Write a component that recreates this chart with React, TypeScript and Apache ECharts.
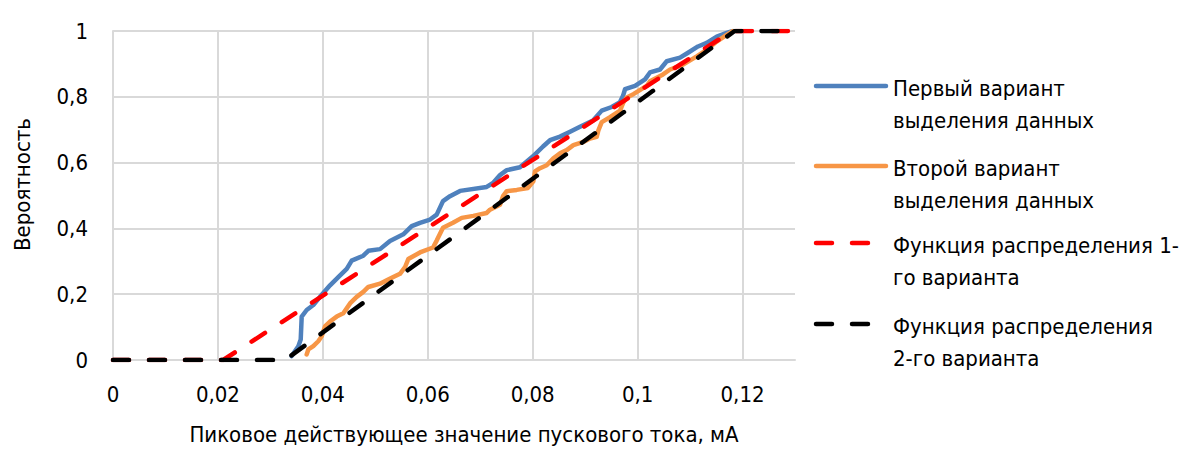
import React, { useEffect, useRef } from "react";
import * as echarts from "echarts";

const FONT = '"Liberation Sans Narrow", "DejaVu Sans Condensed", "Roboto Condensed", sans-serif';

const xTicks = [0, 0.02, 0.04, 0.06, 0.08, 0.1, 0.12];
const yTicks = [0, 0.2, 0.4, 0.6, 0.8, 1];

const seriesNames = [
  "Первый вариант\nвыделения данных",
  "Второй вариант\nвыделения данных",
  "Функция распределения 1-\nго варианта",
  "Функция распределения\n2-го варианта",
];

const firstVariant: [number, number][] = [
  [0.03406, 0.012], [0.03533, 0.042], [0.03578, 0.062], [0.03597, 0.132], [0.03692, 0.152],
  [0.03818, 0.167], [0.03946, 0.192], [0.04137, 0.227], [0.04295, 0.252], [0.04455, 0.277],
  [0.0455, 0.302], [0.04771, 0.317], [0.04867, 0.332], [0.0509, 0.337], [0.0528, 0.362],
  [0.05534, 0.382], [0.05694, 0.407], [0.05852, 0.417], [0.06043, 0.427], [0.0617, 0.442],
  [0.0629, 0.483], [0.06424, 0.498], [0.06615, 0.514], [0.07123, 0.526], [0.07244, 0.538],
  [0.07377, 0.562], [0.07505, 0.577], [0.07758, 0.586], [0.08006, 0.619], [0.08197, 0.649],
  [0.0833, 0.668], [0.08521, 0.679], [0.08712, 0.694], [0.08902, 0.709], [0.0915, 0.728],
  [0.09316, 0.758], [0.09506, 0.769], [0.09665, 0.784], [0.09722, 0.803], [0.0976, 0.823],
  [0.09951, 0.833], [0.10141, 0.853], [0.10236, 0.874], [0.10427, 0.883], [0.10555, 0.908],
  [0.10808, 0.919], [0.10961, 0.934], [0.11151, 0.953], [0.11317, 0.964], [0.11508, 0.983],
  [0.11698, 0.994], [0.11819, 1.0],
];

const secondVariant: [number, number][] = [
  [0.03692, 0.017], [0.03723, 0.032], [0.03818, 0.042], [0.03913, 0.057], [0.03978, 0.072],
  [0.04041, 0.102], [0.04137, 0.117], [0.04264, 0.132], [0.0439, 0.142], [0.04455, 0.157],
  [0.04518, 0.172], [0.04645, 0.192], [0.04771, 0.207], [0.04867, 0.222], [0.0509, 0.232],
  [0.05217, 0.242], [0.05343, 0.252], [0.05471, 0.262], [0.05566, 0.282], [0.05629, 0.307],
  [0.05852, 0.327], [0.061, 0.342], [0.0617, 0.363], [0.0629, 0.402], [0.06481, 0.417],
  [0.06647, 0.432], [0.06868, 0.438], [0.07123, 0.447], [0.07186, 0.457], [0.07377, 0.472],
  [0.07434, 0.498], [0.07505, 0.513], [0.07696, 0.517], [0.07911, 0.523], [0.08012, 0.543],
  [0.08044, 0.573], [0.0814, 0.583], [0.08267, 0.592], [0.08394, 0.613], [0.08521, 0.628],
  [0.08648, 0.638], [0.08775, 0.653], [0.08966, 0.663], [0.09093, 0.673], [0.0922, 0.678],
  [0.09252, 0.698], [0.09316, 0.723], [0.09474, 0.738], [0.09665, 0.758], [0.09728, 0.783],
  [0.09792, 0.798], [0.09919, 0.808], [0.10173, 0.833], [0.10236, 0.847], [0.10484, 0.868],
  [0.10618, 0.883], [0.10866, 0.898], [0.11127, 0.923], [0.11317, 0.943], [0.11508, 0.968],
  [0.11698, 0.988], [0.11819, 1.0],
];

const distribution1: [number, number][] = [
  [0, 0], [0.021, 0], [0.118, 1], [0.13, 1],
];

const distribution2: [number, number][] = [
  [0, 0], [0.0328, 0], [0.1185, 1], [0.13, 1],
];

const colors = ["#4f81bd", "#f79646", "#ff0000", "#000000"];

const fmt = (v: number) => String(parseFloat(v.toFixed(4))).replace(".", ",");

export default function App() {
  const ref = useRef<HTMLDivElement>(null);
  useEffect(() => {
    document.body.style.margin = "0";
    const chart = echarts.init(ref.current!, undefined, { renderer: "svg" });
    const dash = [16, 20];
    const legendY = [86, 166, 243, 324];
    const legendGraphics: any[] = [];
    seriesNames.forEach((name, i) => {
      legendGraphics.push({
        type: "line",
        shape: { x1: 816, y1: legendY[i], x2: i < 2 ? 886 : 880, y2: legendY[i] },
        style: {
          stroke: colors[i],
          lineWidth: 4.5,
          lineCap: "round",
          lineDash: i < 2 ? null : dash,
        },
      });
      legendGraphics.push({
        type: "text",
        x: 893,
        y: legendY[i] + 2 - 16,
        style: {
          text: name,
          fontSize: 22,
          fontFamily: FONT,
          fill: "#000",
          lineHeight: 32,
          verticalAlign: "top",
        },
      });
    });
    const datasets = [firstVariant, secondVariant, distribution1, distribution2];
    chart.setOption({
      animation: false,
      textStyle: { fontFamily: FONT },
      grid: { left: 113, right: 386, top: 31, bottom: 86, containLabel: false },
      xAxis: {
        type: "value",
        min: 0,
        max: 0.13,
        interval: 0.02,
        name: "Пиковое действующее значение пускового тока, мА",
        nameLocation: "middle",
        nameGap: 63,
        nameTextStyle: { fontSize: 22, color: "#000", fontFamily: FONT, padding: [0, 0, 0, 20] },
        axisLine: { show: true, lineStyle: { color: "#d9d9d9", width: 2 } },
        axisTick: { show: false },
        axisLabel: {
          fontSize: 22,
          color: "#000",
          margin: 23,
          showMaxLabel: false,
          formatter: (v: number) => fmt(v),
        },
        splitLine: { show: true, showMaxLine: false, lineStyle: { color: "#d9d9d9", width: 2 } },
      },
      yAxis: {
        type: "value",
        min: 0,
        max: 1,
        interval: 0.2,
        name: "Вероятность",
        nameLocation: "middle",
        nameRotate: 90,
        nameGap: 80,
        nameTextStyle: { fontSize: 22, color: "#000", fontFamily: FONT, padding: [0, 0, 0, 22] },
        axisLine: { show: true, lineStyle: { color: "#d9d9d9", width: 2 } },
        axisTick: { show: false },
        axisLabel: { fontSize: 22, color: "#000", margin: 25, formatter: (v: number) => fmt(v) },
        splitLine: { show: true, lineStyle: { color: "#d9d9d9", width: 2 } },
      },
      series: datasets.map((d, i) => ({
        name: seriesNames[i],
        type: "line",
        data: d,
        showSymbol: false,
        symbol: "none",
        smooth: false,
        lineStyle: {
          color: colors[i],
          width: 4.5,
          type: i < 2 ? "solid" : dash,
          cap: "round",
          join: "round",
        },
        itemStyle: { color: colors[i] },
      })),
      graphic: legendGraphics,
    });
    return () => chart.dispose();
  }, []);
  return <div ref={ref} style={{ width: 1181, height: 450 }} />;
}
